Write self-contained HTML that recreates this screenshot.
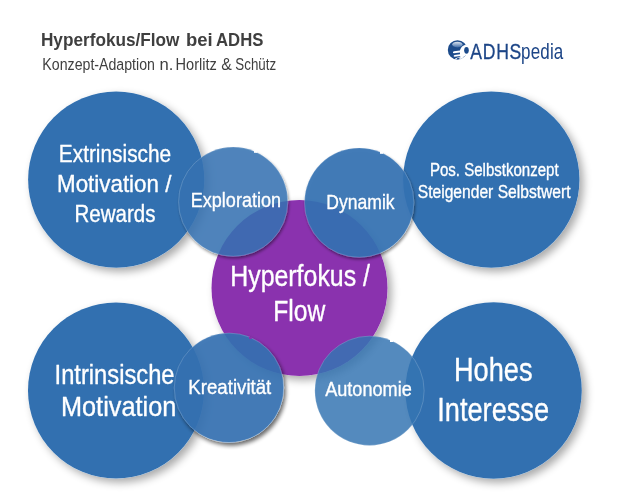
<!DOCTYPE html>
<html><head><meta charset="utf-8">
<style>
html,body{margin:0;padding:0;background:#fff;}
body{width:621px;height:500px;overflow:hidden;font-family:"Liberation Sans",sans-serif;}
svg{display:block;will-change:transform;}
text{font-family:"Liberation Sans",sans-serif;}
</style></head><body>
<svg width="621" height="500" viewBox="0 0 621 500">
<defs>
<filter id="sh" x="-20%" y="-20%" width="140%" height="140%">
<feGaussianBlur in="SourceAlpha" stdDeviation="4.5"/>
<feOffset dx="4" dy="3.5"/>
<feComponentTransfer><feFuncA type="linear" slope="0.34"/></feComponentTransfer>
<feComposite in2="SourceAlpha" operator="out" result="s"/>
<feMerge><feMergeNode in="s"/><feMergeNode in="SourceGraphic"/></feMerge>
</filter>
<filter id="sh2" x="-20%" y="-20%" width="140%" height="140%">
<feGaussianBlur in="SourceAlpha" stdDeviation="1.5"/>
<feOffset dx="1" dy="1.5"/>
<feComponentTransfer><feFuncA type="linear" slope="0.5"/></feComponentTransfer>
<feComposite in2="SourceAlpha" operator="out" result="s"/>
<feMerge><feMergeNode in="s"/><feMergeNode in="SourceGraphic"/></feMerge>
</filter>
<filter id="sh3" x="-20%" y="-20%" width="140%" height="140%">
<feGaussianBlur in="SourceAlpha" stdDeviation="2"/>
<feOffset dx="1.5" dy="2.5"/>
<feComponentTransfer><feFuncA type="linear" slope="0.65"/></feComponentTransfer>
<feComposite in2="SourceAlpha" operator="out" result="s"/>
<feMerge><feMergeNode in="s"/><feMergeNode in="SourceGraphic"/></feMerge>
</filter>
<linearGradient id="gl" x1="0" y1="0" x2="0" y2="1">
<stop offset="0" stop-color="#dce5f0"/><stop offset="1" stop-color="#3f6ca8"/>
</linearGradient>
</defs>
<rect width="621" height="500" fill="#fff"/>

<!-- header -->
<text transform="translate(40.90,45.50) scale(0.9108,1)" font-size="18.90" font-weight="bold" fill="#3f3f3f">Hyperfokus/Flow</text>
<text transform="translate(186.01,45.50) scale(0.9770,1)" font-size="18.90" font-weight="bold" fill="#3f3f3f">bei</text>
<text transform="translate(216.05,45.50) scale(0.8849,1)" font-size="18.90" font-weight="bold" fill="#3f3f3f">ADHS</text>
<text transform="translate(42.37,69.60) scale(0.8947,1)" font-size="15.84" fill="#3f3f3f">Konzept-Adaption</text>
<text transform="translate(159.59,69.60) scale(1.0504,1)" font-size="15.84" fill="#3f3f3f">n.</text>
<text transform="translate(175.53,69.60) scale(0.9211,1)" font-size="15.84" fill="#3f3f3f">Horlitz</text>
<text transform="translate(221.26,69.60) scale(1.0037,1)" font-size="15.84" fill="#3f3f3f">&amp;</text>
<text transform="translate(235.33,69.60) scale(0.8423,1)" font-size="15.84" fill="#3f3f3f">Schütz</text>

<!-- logo -->
<g id="logo">
<clipPath id="lc"><circle cx="457.5" cy="49.9" r="9.7"/></clipPath>
<circle cx="457.5" cy="49.9" r="9.7" fill="#1c4b8b"/>
<ellipse cx="457.4" cy="44.6" rx="5.2" ry="2.8" fill="url(#gl)"/>
<g clip-path="url(#lc)">
<path d="M466,44.4 C462.8,45.2 460.3,47.8 460,50.6 L454,51.3 C452.5,51.6 452.6,53.3 454,53.2 L460,52.6 L460,54.3 L454.6,54.9 C453.1,55.3 453.4,57 454.8,56.8 L460.2,55.9 L460.2,62 L471,62 L471,44.4 Z" fill="#fff"/>
<path d="M460.3,56.6 L455.2,58.6 C454.8,59.8 455.8,61.2 457.2,61.4 L460.3,61.4 Z" fill="#fff"/>
<path d="M456.2,59.8 C456.9,58 458.6,57.3 459.7,57.7 C459.6,59.5 458.2,60.8 456.6,60.8 Z" fill="#1c4b8b"/>
<path d="M463.6,56.4 L466.7,57.3 L464.3,59.3 Z" fill="#1c4b8b"/>
</g>
<ellipse cx="466.5" cy="50.3" rx="3.5" ry="4.7" fill="#fff"/>
<ellipse cx="466.5" cy="50.3" rx="2.3" ry="3.4" fill="#1c4b8b"/>
<text transform="translate(470.30,58.90) scale(0.7921,1)" font-size="22.24" letter-spacing="0.89" fill="#1c4587" stroke="#1c4587" stroke-width="0.3">ADHS</text>
<text transform="translate(521.01,58.90) scale(0.7739,1)" font-size="22.00" letter-spacing="0.22" fill="#1c4587">pedia</text>
</g>

<!-- big circles -->
<g filter="url(#sh)"><circle cx="116.2" cy="179.6" r="88.1" fill="#3170b0"/></g>
<g filter="url(#sh)"><circle cx="491.3" cy="179.6" r="88.2" fill="#3170b0"/></g>
<g filter="url(#sh)"><circle cx="116" cy="390.5" r="88" fill="#3170b0"/></g>
<g filter="url(#sh)"><circle cx="493.6" cy="390.5" r="88.2" fill="#3170b0"/></g>
<g filter="url(#sh)"><circle cx="299.5" cy="288" r="88" fill="#8a30ae"/></g>
<!-- small circles -->
<g filter="url(#sh2)"><circle cx="233.2" cy="201.7" r="54.6" fill="#3572b2" fill-opacity="0.865" stroke="#fff" stroke-opacity="0.22" stroke-width="0.8"/></g>
<g filter="url(#sh2)"><circle cx="359.2" cy="202.6" r="54.7" fill="#3471b2" fill-opacity="0.93" stroke="#fff" stroke-opacity="0.22" stroke-width="0.8"/></g>
<g filter="url(#sh3)"><circle cx="229" cy="387.8" r="54.7" fill="#3370b1" fill-opacity="0.92" stroke="#fff" stroke-opacity="0.22" stroke-width="0.8"/></g>
<circle cx="369.5" cy="390.75" r="54.65" fill="#3575b2" fill-opacity="0.846" stroke="#fff" stroke-opacity="0.22" stroke-width="0.8"/>

<!-- edge notches -->
<rect x="254" y="150.4" width="3.2" height="2.4" fill="#fff"/>
<rect x="380" y="151.4" width="3.2" height="2.4" fill="#fff"/>
<rect x="390" y="339.8" width="3.2" height="2.2" fill="#fff"/>
<rect x="249" y="337" width="2.8" height="1.9" fill="#8a30ae"/>

<!-- labels -->
<g stroke="#fff" stroke-width="0.35" stroke-linejoin="round">
<text transform="translate(58.83,161.80) scale(0.8490,1)" font-size="24.56" fill="#fff">Extrinsische</text>
<text transform="translate(57.01,191.50) scale(0.9113,1)" font-size="24.56" fill="#fff">Motivation /</text>
<text transform="translate(74.56,221.90) scale(0.8344,1)" font-size="24.56" fill="#fff">Rewards</text>
<text transform="translate(190.75,206.60) scale(0.8815,1)" font-size="20.49" fill="#fff">Exploration</text>
<text transform="translate(326.34,208.80) scale(0.8514,1)" font-size="20.64" fill="#fff">Dynamik</text>
<text transform="translate(429.90,175.70) scale(0.8413,1)" font-size="17.88" fill="#fff">Pos. Selbstkonzept</text>
<text transform="translate(417.72,197.60) scale(0.8750,1)" font-size="17.88" fill="#fff">Steigender Selbstwert</text>
<text transform="translate(230.21,285.70) scale(0.8652,1)" font-size="28.78" fill="#fff">Hyperfokus /</text>
<text transform="translate(273.23,320.70) scale(0.8558,1)" font-size="28.78" fill="#fff">Flow</text>
<text transform="translate(54.56,383.90) scale(0.8781,1)" font-size="27.03" fill="#fff">Intrinsische</text>
<text transform="translate(60.98,416.30) scale(0.9361,1)" font-size="27.03" fill="#fff">Motivation</text>
<text transform="translate(188.31,393.80) scale(0.9046,1)" font-size="20.64" fill="#fff">Kreativität</text>
<text transform="translate(325.20,395.80) scale(0.8770,1)" font-size="20.64" fill="#fff">Autonomie</text>
<text transform="translate(453.93,381.10) scale(0.8387,1)" font-size="32.41" fill="#fff">Hohes</text>
<text transform="translate(437.25,420.60) scale(0.8387,1)" font-size="32.41" fill="#fff">Interesse</text>
</g>
</svg>
</body></html>
